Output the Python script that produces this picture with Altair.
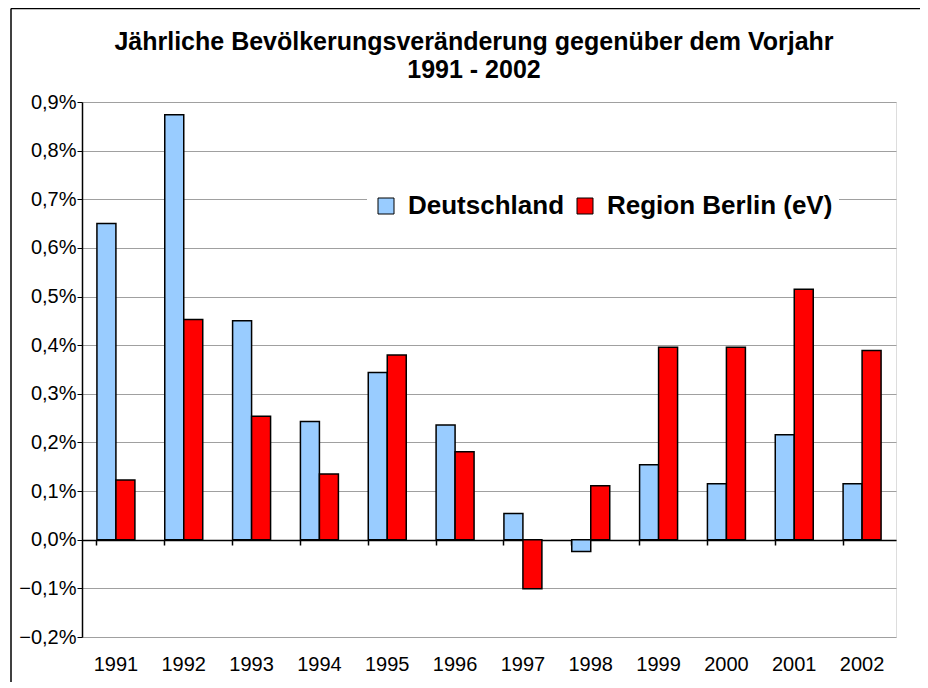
import altair as alt
import pandas as pd

years = ["1991", "1992", "1993", "1994", "1995", "1996", "1997", "1998", "1999", "2000", "2001", "2002"]
deutschland = [0.65, 0.874, 0.45, 0.243, 0.344, 0.236, 0.054, -0.024, 0.154, 0.115, 0.216, 0.115]
berlin = [0.123, 0.453, 0.254, 0.135, 0.38, 0.181, -0.101, 0.111, 0.396, 0.396, 0.515, 0.389]
series = ["Deutschland", "Region Berlin (eV)"]
colors = ["#99CCFF", "#FF0000"]

rows = []
for y, a, b in zip(years, deutschland, berlin):
    rows.append({"Jahr": y, "Reihe": series[0], "Wert": a})
    rows.append({"Jahr": y, "Reihe": series[1], "Wert": b})
df = pd.DataFrame(rows)

FONT = "Liberation Sans"
label_expr = "replace(format(datum.value, '.1f'), '.', ',') + '%'"

xscale = alt.Scale(domain=years, paddingInner=0.44, paddingOuter=0.22)

bars = alt.Chart(df).mark_bar(stroke="black", strokeWidth=1.5).encode(
    x=alt.X("Jahr:N", scale=xscale, sort=years,
            axis=alt.Axis(orient="bottom", title=None, labelAngle=0, ticks=False, domain=False,
                          labelFontSize=20, labelFont=FONT, labelColor="black", labelPadding=17,
                          grid=False)),
    xOffset=alt.XOffset("Reihe:N", sort=series, scale=alt.Scale(domain=series)),
    y=alt.Y("Wert:Q", scale=alt.Scale(domain=[-0.2, 0.9], nice=False),
            axis=alt.Axis(title=None, values=[-0.2, -0.1, 0, 0.1, 0.2, 0.3, 0.4, 0.5, 0.6, 0.7, 0.8, 0.9],
                          labelExpr=label_expr, labelFontSize=20, labelFont=FONT, labelColor="black",
                          labelPadding=1, tickSize=5, tickColor="black", domainColor="black",
                          domainWidth=1.5, gridColor="#a0a0a0", gridWidth=1.2)),
    color=alt.Color("Reihe:N", sort=series, scale=alt.Scale(domain=series, range=colors),
                    legend=alt.Legend(title=None, orient="none", legendX=285, legendY=85,
                                      direction="horizontal", symbolType="square", symbolSize=256,
                                      symbolStrokeColor="black", symbolStrokeWidth=1, symbolOpacity=1,
                                      labelFontSize=26, labelFont=FONT, labelFontWeight="bold",
                                      labelColor="black", labelOffset=9, labelLimit=500,
                                      columnPadding=7, fillColor="white", padding=6)),
)

zero_axis = alt.Chart(df).mark_point(opacity=0).encode(
    x=alt.X("Jahr:N", scale=xscale, sort=years,
            axis=alt.Axis(orient="bottom", offset=-97, title=None, labels=False, ticks=True,
                          tickSize=5, tickColor="black", tickWidth=1.5, bandPosition=0,
                          domain=True, domainColor="black", domainWidth=1.5, grid=False)),
    y=alt.Y("Wert:Q"),
)

one = pd.DataFrame({"k": [0]})
frame_left = alt.Chart(one).mark_rule(color="black", strokeWidth=1.5).encode(
    x=alt.value(-71), y=alt.value(-93.5), y2=alt.value(700))
frame_top = alt.Chart(one).mark_rule(color="black", strokeWidth=1.5).encode(
    x=alt.value(-71), x2=alt.value(900), y=alt.value(-93.5))

chart = alt.layer(frame_left, frame_top, bars, zero_axis).resolve_axis(x="independent").properties(
    width=814, height=535,
    title=alt.TitleParams(text=["Jährliche Bevölkerungsveränderung gegenüber dem Vorjahr", "1991 - 2002"],
                          font=FONT, fontSize=25, fontWeight="bold", color="black", anchor="middle",
                          dx=-15, offset=-75, lineHeight=28),
    autosize=alt.AutoSizeParams(type="none"),
    padding={"left": 74, "top": 94, "right": 24, "bottom": 45},
).configure_view(stroke="#a0a0a0", strokeWidth=1.2).configure(background="white")

chart.save("out.html", embed_options={"renderer": "svg", "actions": False})
